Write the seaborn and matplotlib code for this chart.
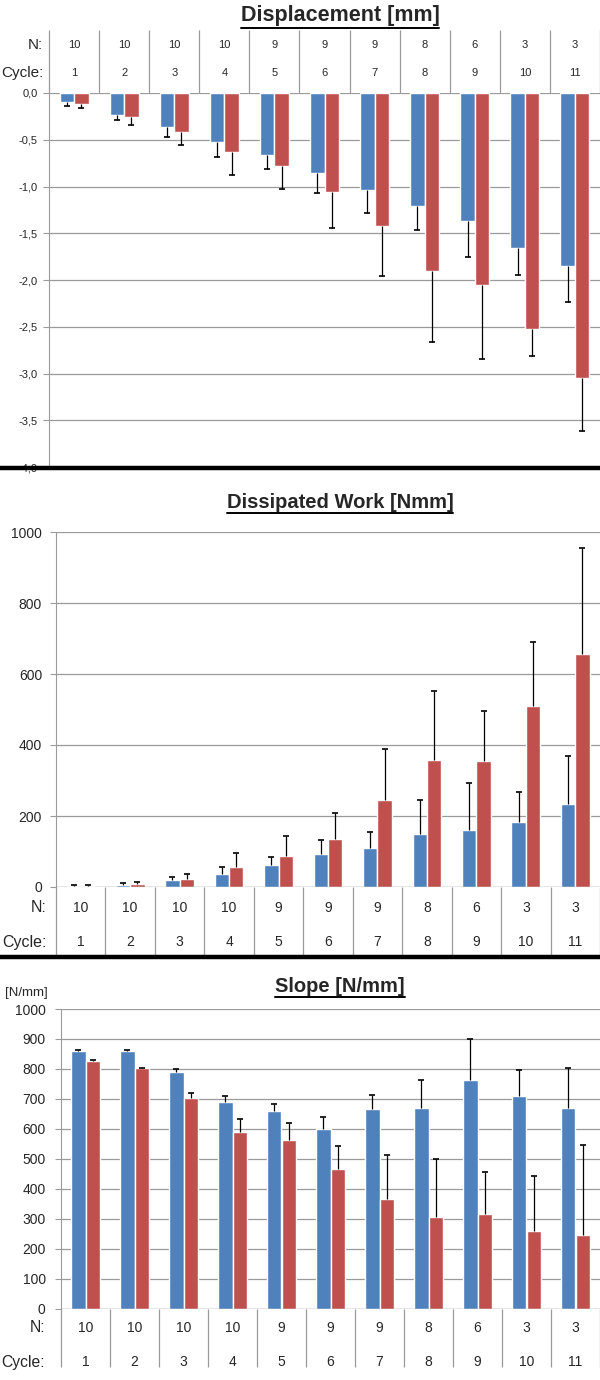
import numpy as np
import pandas as pd
import seaborn as sns
import matplotlib.pyplot as plt
from matplotlib.lines import Line2D
from matplotlib.ticker import FuncFormatter

sns.set_style("white")
plt.rcParams['font.family'] = ['Liberation Sans', 'DejaVu Sans']

# data
cycles = ["1", "2", "3", "4", "5", "6", "7", "8", "9", "10", "11"]
n_counts = ["10", "10", "10", "10", "9", "9", "9", "8", "6", "3", "3"]

disp_blue = [-0.10, -0.23, -0.36, -0.52, -0.66, -0.86, -1.04, -1.21, -1.37, -1.66, -1.85]
disp_blue_sd = [0.04, 0.06, 0.11, 0.16, 0.15, 0.21, 0.24, 0.26, 0.38, 0.29, 0.39]
disp_red = [-0.12, -0.26, -0.42, -0.63, -0.78, -1.06, -1.42, -1.90, -2.05, -2.52, -3.05]
disp_red_sd = [0.04, 0.08, 0.14, 0.25, 0.25, 0.38, 0.54, 0.76, 0.79, 0.29, 0.56]

work_blue = [3, 7, 19, 38, 61, 92, 110, 150, 161, 183, 234]
work_blue_sd = [2, 3, 10, 19, 24, 40, 45, 94, 133, 84, 134]
work_red = [2, 8, 23, 55, 86, 135, 245, 357, 354, 510, 655]
work_red_sd = [3, 5, 14, 42, 58, 74, 145, 195, 141, 180, 299]

slope_blue = [861, 859, 790, 690, 659, 601, 668, 669, 763, 711, 670]
slope_blue_sd = [1, 3, 9, 19, 23, 40, 45, 93, 136, 85, 134]
slope_red = [828, 802, 704, 591, 563, 467, 367, 307, 316, 260, 247]
slope_red_sd = [1, 2, 15, 42, 58, 75, 145, 194, 140, 182, 299]

BLUE = "#4F81BD"
RED = "#C0504D"
GRID = "#9A9A9A"
W, H = 600, 1380

fig = plt.figure(figsize=(W / 100, H / 100), dpi=100)


def px_axes(left, top, right, bottom):
    return fig.add_axes([left / W, 1 - bottom / H, (right - left) / W, (bottom - top) / H])


def draw_panel(ax, blue, blue_sd, red, red_sd, down=False):
    df = pd.DataFrame({
        "cycle": cycles * 2,
        "series": ["a"] * 11 + ["b"] * 11,
        "value": blue + red,
    })
    sns.barplot(data=df, x="cycle", y="value", hue="series", palette=[BLUE, RED],
                width=0.58, errorbar=None, saturation=1, legend=False, ax=ax, zorder=2)
    # one-sided error bars, cap only at the outer end
    for cont, vals, sd in zip(ax.containers, [blue, red], [blue_sd, red_sd]):
        xs = np.array([b.get_x() + b.get_width() / 2 for b in cont])
        vals = np.array(vals)
        ends = vals - np.array(sd) if down else vals + np.array(sd)
        ax.vlines(xs, vals, ends, color="black", lw=0.9, zorder=3)
        ax.plot(xs, ends, ls="none", marker="_", ms=5, mew=1.2, color="black", zorder=3)
    ax.set_xlim(-0.5, 10.5)
    ax.set_xlabel("")
    ax.set_ylabel("")
    ax.set_xticks([])
    ax.yaxis.grid(True, color=GRID, lw=0.9)
    ax.set_axisbelow(True)
    for s in ["top", "right", "bottom"]:
        ax.spines[s].set_visible(False)
    ax.spines["left"].set_color(GRID)
    ax.tick_params(axis="y", left=True, length=4, color=GRID, width=0.8)


def table_rows(ax, y_n, y_c, y_top, y_bot, size, lab_x, lab_size):
    # y given in figure pixels
    bb = ax.get_position()
    def to_ax(y):
        return ((1 - y / H) - bb.y0) / bb.height
    tr = ax.get_xaxis_transform()
    for i, (n, c) in enumerate(zip(n_counts, cycles)):
        ax.text(i, to_ax(y_n), n, transform=tr, ha="center", va="center", fontsize=size, clip_on=False)
        ax.text(i, to_ax(y_c), c, transform=tr, ha="center", va="center", fontsize=size, clip_on=False)
    ax.vlines(np.arange(-0.5, 11, 1.0), to_ax(y_top), to_ax(y_bot), transform=tr,
              color=GRID, lw=0.9, clip_on=False)
    fig.text(lab_x / W, 1 - y_n / H, "N:", ha="right", va="center", fontsize=lab_size)
    fig.text(lab_x / W, 1 - y_c / H, "Cycle:", ha="right", va="center", fontsize=lab_size)


# displacement
ax1 = px_axes(49, 93, 600, 467)
draw_panel(ax1, disp_blue, disp_blue_sd, disp_red, disp_red_sd, down=True)
ax1.set_ylim(-4.0, 0.0)
ax1.set_yticks(np.arange(-4.0, 0.01, 0.5))
ax1.yaxis.set_major_formatter(FuncFormatter(lambda v, p: f"{v:.1f}".replace(".", ",").replace("-0,0", "0,0")))
ax1.tick_params(axis="y", labelsize=8, pad=4)
table_rows(ax1, 45, 73, 30, 93, 8, 43, 11)

# dissipated work
ax2 = px_axes(56, 532, 600, 887)
draw_panel(ax2, work_blue, work_blue_sd, work_red, work_red_sd)
ax2.set_ylim(0, 1000)
ax2.set_yticks(np.arange(0, 1001, 200))
ax2.tick_params(axis="y", labelsize=10, pad=6)
ax2.axhline(0, color=GRID, lw=0.9, zorder=4)
table_rows(ax2, 908, 942, 887, 955, 10, 47, 11.5)

# slope
ax3 = px_axes(61, 1009, 600, 1309)
draw_panel(ax3, slope_blue, slope_blue_sd, slope_red, slope_red_sd)
ax3.set_ylim(0, 1000)
ax3.set_yticks(np.arange(0, 1001, 100))
ax3.tick_params(axis="y", labelsize=10, pad=7)
ax3.axhline(0, color=GRID, lw=0.9, zorder=4)
table_rows(ax3, 1328, 1362, 1309, 1367, 10, 45, 11.3)
fig.text(5 / W, 1 - 993 / H, "[N/mm]", ha="left", va="center", fontsize=9.5)

# thick separators
for y in [468, 957]:
    fig.add_artist(Line2D([0, 1], [1 - y / H] * 2, color="black", lw=3.2, zorder=10))

# underlined titles
titles = [("Displacement [mm]", 16, 15.5), ("Dissipated Work [Nmm]", 502, 14.5), ("Slope [N/mm]", 987, 14.5)]
tobjs = []
for txt, y, fs in titles:
    tobjs.append(fig.text(340 / W, 1 - y / H, txt, ha="center", va="center", fontsize=fs, fontweight="bold"))
fig.canvas.draw()
for t in tobjs:
    ext = t.get_window_extent()
    yl = (ext.y0 - 1) / H
    fig.add_artist(Line2D([ext.x0 / W, ext.x1 / W], [yl, yl], color="black", lw=1.4))

fig.savefig("out.png", dpi=100)
